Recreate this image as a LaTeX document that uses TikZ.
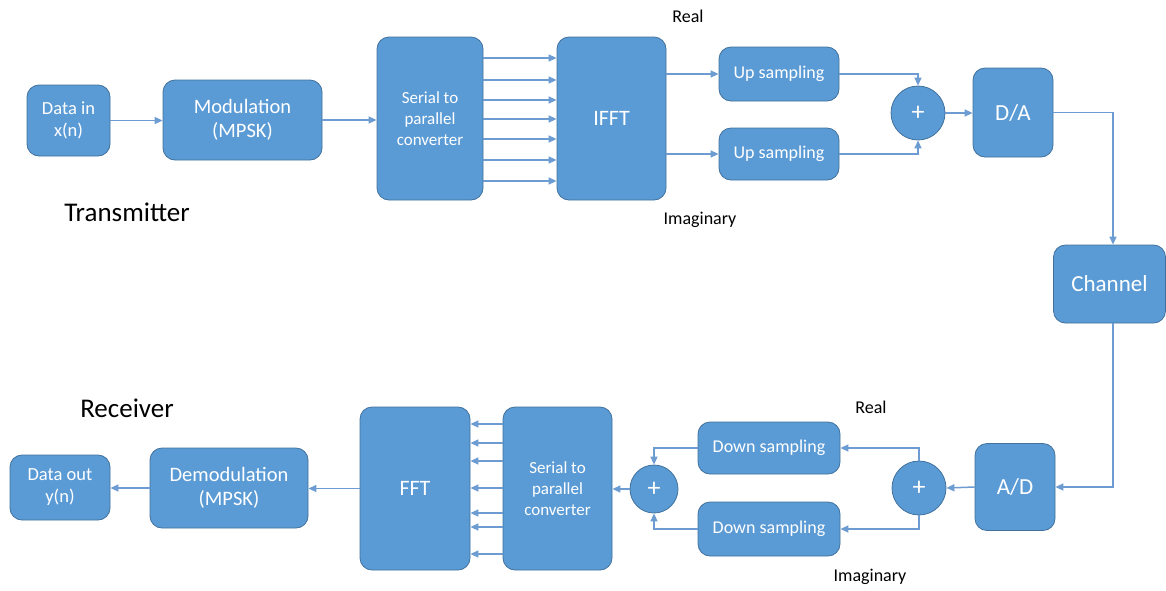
\documentclass[tikz,border=0pt]{standalone}
\usepackage{fontspec}
\setmainfont{Carlito}
\usetikzlibrary{arrows.meta,calc}
\definecolor{boxfill}{HTML}{5B9BD5}
\definecolor{boxline}{HTML}{41719C}
\definecolor{wire}{HTML}{6C9CD2}
\tikzset{
  blk/.style={draw=boxline, fill=boxfill, line width=0.8pt, rounded corners=12pt,
    text=white, align=center, inner sep=0pt, font=\fontsize{18}{21}\selectfont},
  sz/.style 2 args={minimum width=#1pt, minimum height=#2pt},
  sumnode/.style={circle, draw=boxline, fill=boxfill, line width=0.8pt, text=white,
    inner sep=0pt, minimum size=#1pt, font=\fontsize{26}{26}\selectfont},
  arr/.style={draw=wire, line width=1.5pt, -{Triangle[length=8pt,width=7pt]}},
  lbl/.style={text=black, inner sep=0pt, font=\fontsize{18}{20}\selectfont},
  big/.style={text=black, inner sep=0pt, font=\fontsize{27}{30}\selectfont}
}
\begin{document}
\begin{tikzpicture}[x=1pt,y=-1pt]
\useasboundingbox (0,0) rectangle (1166,590);
% Transmitter
\node[blk, sz={83}{71}, font=\fontsize{18.5}{22}\selectfont] (din) at (68.5,120.5) {Data in\\x(n)};
\node[blk, sz={159}{80}, font=\fontsize{20.5}{24}\selectfont] (mod) at (242.5,120) {Modulation\\(MPSK)};
\node[blk, sz={106}{163}, font=\fontsize{17}{21}\selectfont] (sp1) at (430,118.5) {Serial to\\parallel\\converter};
\node[blk, sz={109}{163}, font=\fontsize{22}{24}\selectfont] (ifft) at (611.5,118.5) {IFFT};
\node[blk, sz={120}{54}] (up1) at (779,74) {Up sampling};
\node[blk, sz={120}{52}] (up2) at (779,154) {Up sampling};
\node[sumnode=54] (sum1) at (918,113) {+};
\node[blk, sz={80}{89}, font=\fontsize{23}{26}\selectfont] (da) at (1013,112.5) {D/A};
\node[blk, sz={112}{78}, font=\fontsize{23}{26}\selectfont] (ch) at (1109.5,284) {Channel};
% Receiver
\node[blk, sz={80}{87}, font=\fontsize{23}{26}\selectfont] (ad) at (1015,487) {A/D};
\node[sumnode=54] (sum2) at (919,488) {+};
\node[blk, sz={142}{52}] (dn1) at (769,448) {Down sampling};
\node[blk, sz={142}{54}] (dn2) at (769,529) {Down sampling};
\node[sumnode=48] (sum3) at (654,489) {+};
\node[blk, sz={109}{163}, font=\fontsize{17}{21}\selectfont] (sp2) at (557.5,488.5) {Serial to\\parallel\\converter};
\node[blk, sz={110}{163}, font=\fontsize{22}{24}\selectfont] (fft) at (415,488.5) {FFT};
\node[blk, sz={158}{80}, font=\fontsize{20.5}{24}\selectfont] (demod) at (229,488) {Demodulation\\(MPSK)};
\node[blk, sz={100}{65}, font=\fontsize{18.5}{22}\selectfont] (dout) at (60,487.5) {Data out\\y(n)};
% Labels
\node[lbl] (r1) at (688,16) {Real};
\node[lbl] (i1) at (700,220) {Imaginary};
\node[lbl] (r2) at (871,407) {Real};
\node[lbl] (i2) at (870,577) {Imaginary};
\node[big] (tx) at (127,212) {Transmitter};
\node[big] (rx) at (127,408) {Receiver};
% Transmitter connectors
\draw[arr] (din.east) -- (mod.west |- din.east);
\draw[arr] (mod.east) -- (sp1.west |- mod.east);
\foreach \yy in {58,80,100,119,139,160,181}
  \draw[arr] (sp1.east |- 0,\yy) -- (ifft.west |- 0,\yy);
\draw[arr] (ifft.east |- up1.west) -- (up1.west);
\draw[arr] (ifft.east |- up2.west) -- (up2.west);
\draw[arr] (up1.east) -| (sum1.north);
\draw[arr] (up2.east) -| (sum1.south);
\draw[arr] (sum1.east) -- (da.west |- sum1.east);
\coordinate (c1) at (1113,112.5);
\draw[arr] (da.east) -- (c1) -- (c1 |- ch.north);
\draw[arr] (c1 |- ch.south) |- (ad.east);
% Receiver connectors
\draw[arr] (ad.west) -- (sum2.east);
\draw[arr] (sum2.north) |- (dn1.east);
\draw[arr] (sum2.south) |- (dn2.east);
\draw[arr] (dn1.west) -| (sum3.north);
\draw[arr] (dn2.west) -| (sum3.south);
\draw[arr] (sum3.west) -- (sp2.east |- sum3.west);
\foreach \yy in {424,443,461,488,513,527,554}
  \draw[arr] (sp2.west |- 0,\yy) -- (fft.east |- 0,\yy);
\draw[arr] (fft.west) -- (demod.east |- fft.west);
\draw[arr] (demod.west) -- (dout.east |- demod.west);
\end{tikzpicture}
\end{document}
